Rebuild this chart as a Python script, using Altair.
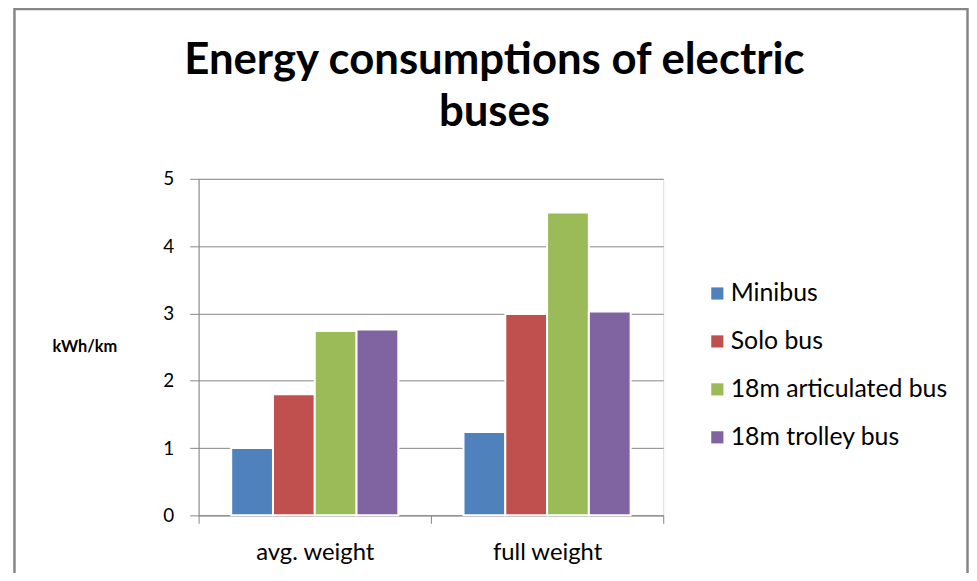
import altair as alt
import pandas as pd

categories = ["avg. weight", "full weight"]
series = ["Minibus", "Solo bus", "18m articulated bus", "18m trolley bus"]
values = {
    "Minibus": [1.00, 1.24],
    "Solo bus": [1.80, 2.99],
    "18m articulated bus": [2.74, 4.50],
    "18m trolley bus": [2.76, 3.03],
}
colors = ["#4F81BD", "#C0504D", "#9BBB59", "#8064A2"]

rows = []
for s in series:
    for c, v in zip(categories, values[s]):
        rows.append({"category": c, "series": s, "value": v})
df = pd.DataFrame(rows)

FONT = "Lato"
GRAY = "#868686"

bars = alt.Chart(df).mark_bar(stroke="white", strokeWidth=2).encode(
    x=alt.X("category:N", sort=categories, title=None,
            scale=alt.Scale(paddingInner=0, paddingOuter=0, round=False),
            axis=alt.Axis(labelAngle=0, labelFontSize=24, labelFont=FONT, labelColor="black",
                          domainColor=GRAY, tickColor=GRAY, tickSize=8, tickBand="extent",
                          labelPadding=17, grid=False)),
    xOffset=alt.XOffset("series:N", sort=series,
                        scale=alt.Scale(paddingInner=0, paddingOuter=0.78, round=False)),
    y=alt.Y("value:Q", scale=alt.Scale(domain=[0, 5]),
            axis=alt.Axis(values=[0, 1, 2, 3, 4, 5], format="d", labelFontSize=19, labelFont=FONT,
                          labelColor="black", domainColor=GRAY, tickColor=GRAY, tickSize=9,
                          gridColor=GRAY, labelPadding=16,
                          title="kWh/km", titleAngle=0, titleAlign="center", titleBaseline="middle",
                          titleX=-115, titleY=169, titleFont=FONT, titleFontSize=16.5,
                          titleFontWeight="bold", titleColor="black")),
    color=alt.Color("series:N", sort=series, scale=alt.Scale(domain=series, range=colors),
                    legend=alt.Legend(title=None, orient="none", legendX=510, legendY=103,
                                      symbolType="square", symbolSize=150, symbolStrokeWidth=0,
                                      labelFontSize=25, labelFont=FONT, labelColor="black",
                                      labelOffset=1, rowPadding=22.3, padding=0, labelLimit=0)),
)

frame = alt.Chart(pd.DataFrame({"a": [0]})).mark_rect(
    filled=False, stroke=GRAY, strokeWidth=2.5
).encode(
    x=alt.value(-185.5), x2=alt.value(774.5), y=alt.value(-171), y2=alt.value(420)
)

chart = alt.layer(frame, bars).properties(
    width=468, height=339,
    title=alt.TitleParams(
        text=["Energy consumptions of electric", "buses"],
        font=FONT, fontSize=44, fontWeight="bold", color="black",
        anchor="middle", dx=64, lineHeight=52, offset=-128,
    ),
    autosize=alt.AutoSizeParams(type="none"),
    padding={"left": 192, "top": 170, "right": 308, "bottom": 56},
).configure_view(stroke=None).configure(background="white")

chart.save("out.html", embed_options={"renderer": "svg", "actions": False})
